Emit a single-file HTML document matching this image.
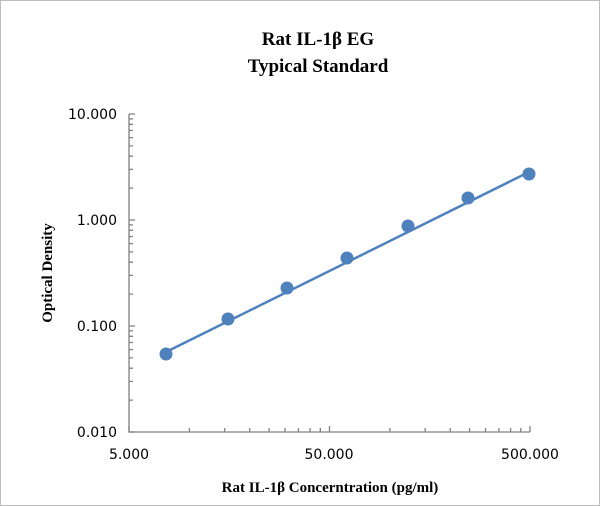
<!DOCTYPE html>
<html><head><style>body{margin:0;background:#fff}svg{display:block}</style></head><body>
<svg width="600" height="506" xmlns="http://www.w3.org/2000/svg">
<rect x="0.5" y="0.5" width="599" height="505" fill="#fff" stroke="#bdbdbd"/>
<g font-family="Liberation Serif, serif" font-weight="bold" fill="#000" text-anchor="middle">
<text x="318" y="45" font-size="19">Rat IL-1β EG</text>
<text x="318" y="72" font-size="19">Typical Standard</text>
<text x="330" y="492" font-size="15">Rat IL-1β Concerntration (pg/ml)</text>
<text transform="translate(52,273) rotate(-90)" font-size="15">Optical Density</text>
</g>
<g stroke="#808080" stroke-width="1.3" fill="none">
<path d="M129 114V432H530"/>
<path d="M129 432v-6M189.4 432v-4M224.7 432v-4M249.7 432v-4M269.1 432v-4M285 432v-4M298.4 432v-4M310.1 432v-4M320.3 432v-4M329.5 432v-6M389.9 432v-4M425.2 432v-4M450.2 432v-4M469.6 432v-4M485.5 432v-4M498.9 432v-4M510.6 432v-4M520.8 432v-4M530 432v-6"/>
<path d="M129 432h6M129 400.1h4M129 381.4h4M129 368.2h4M129 357.9h4M129 349.6h4M129 342.5h4M129 336.3h4M129 330.9h4M129 326h6M129 294.1h4M129 275.4h4M129 262.2h4M129 251.9h4M129 243.6h4M129 236.5h4M129 230.3h4M129 224.9h4M129 220h6M129 188.1h4M129 169.4h4M129 156.2h4M129 145.9h4M129 137.6h4M129 130.5h4M129 124.3h4M129 118.9h4M129 114h6"/>
</g>
<g font-family="DejaVu Sans, sans-serif" font-size="14" fill="#000">
<text x="117" y="119" text-anchor="end">10.000</text>
<text x="117" y="225" text-anchor="end">1.000</text>
<text x="117" y="331" text-anchor="end">0.100</text>
<text x="117" y="437" text-anchor="end">0.010</text>
<text x="129" y="459" text-anchor="middle">5.000</text>
<text x="329" y="459" text-anchor="middle">50.000</text>
<text x="530" y="459" text-anchor="middle">500.000</text>
</g>
<line x1="166" y1="352" x2="529" y2="172" stroke="#4f81bd" stroke-width="2.5"/>
<g fill="#4f81bd">
<circle cx="166" cy="354" r="6.5"/><circle cx="228" cy="319" r="6.5"/><circle cx="287" cy="288" r="6.5"/>
<circle cx="347" cy="258" r="6.5"/><circle cx="408" cy="226" r="6.5"/><circle cx="468" cy="198" r="6.5"/>
<circle cx="529" cy="174" r="6.5"/>
</g>
</svg>
</body></html>
